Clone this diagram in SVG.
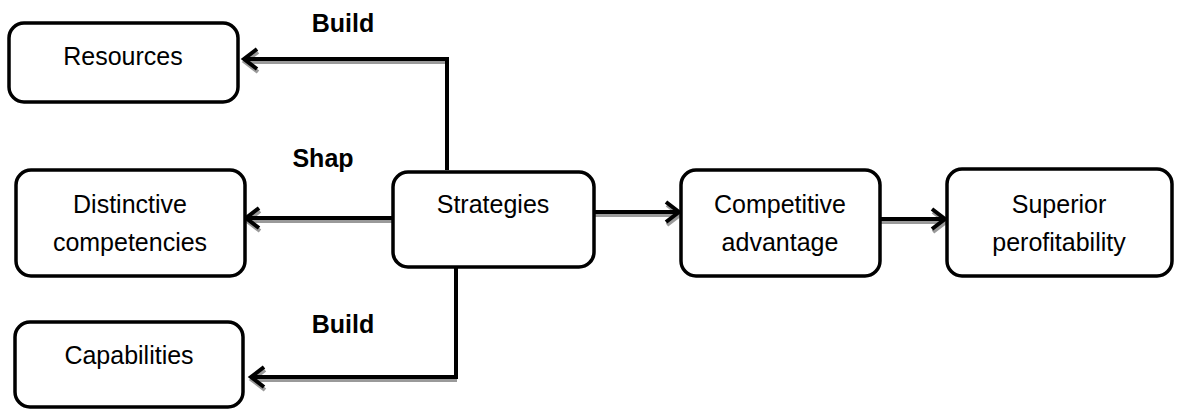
<svg xmlns="http://www.w3.org/2000/svg" width="1178" height="410" viewBox="0 0 1178 410">
  <style>
    .box { fill: #ffffff; stroke: #000000; stroke-width: 3.5; }
    .lbl { font-family: "Liberation Sans", Arial, sans-serif; font-size: 25px; fill: #000000; text-anchor: middle; }
    .edge-lbl { font-family: "Liberation Sans", Arial, sans-serif; font-size: 25px; font-weight: bold; fill: #000000; text-anchor: middle; }
    .ln { fill: none; stroke: #000000; stroke-width: 4; }
    .sh { fill: none; stroke: #9a9a9a; stroke-width: 4; }
  </style>
  <defs>
    <marker id="ah" viewBox="-18 -14 22 28" refX="0" refY="0" markerWidth="22" markerHeight="28" markerUnits="userSpaceOnUse" orient="auto" overflow="visible">
      <path d="M-13,-10 L0,0 L-13,10" fill="none" stroke="#000000" stroke-width="4"/>
    </marker>
    <marker id="ahs" viewBox="-18 -14 22 28" refX="0" refY="0" markerWidth="22" markerHeight="28" markerUnits="userSpaceOnUse" orient="auto" overflow="visible">
      <path d="M-13,-10 L0,0 L-13,10" fill="none" stroke="#9a9a9a" stroke-width="4"/>
    </marker>
  </defs>

  <g id="connectors">
    <g id="shadows" transform="translate(1,3)">
      <path class="sh" d="M447,59 L244,59" marker-end="url(#ahs)"/>
      <path class="sh" d="M393,218 L246,218" marker-end="url(#ahs)"/>
      <path class="sh" d="M456,377 L251,377" marker-end="url(#ahs)"/>
      <path class="sh" d="M594,212 L679,212" marker-end="url(#ahs)"/>
      <path class="sh" d="M880,219 L945,219" marker-end="url(#ahs)"/>
    </g>
    <path class="ln" d="M447,170 L447,59 L244,59" marker-end="url(#ah)"/>
    <path class="ln" d="M393,218 L246,218" marker-end="url(#ah)"/>
    <path class="ln" d="M456,267 L456,377 L251,377" marker-end="url(#ah)"/>
    <path class="ln" d="M594,212 L679,212" marker-end="url(#ah)"/>
    <path class="ln" d="M880,219 L945,219" marker-end="url(#ah)"/>
    <text class="edge-lbl" x="343" y="32">Build</text>
    <text class="edge-lbl" x="323" y="167">Shap</text>
    <text class="edge-lbl" x="343" y="333">Build</text>
  </g>

  <g id="resources">
    <rect class="box" x="9" y="23" width="229" height="79" rx="15"/>
    <text class="lbl" x="123" y="65">Resources</text>
  </g>
  <g id="distinctive">
    <rect class="box" x="16" y="170" width="229" height="106" rx="15"/>
    <text class="lbl" x="130" y="213">Distinctive</text>
    <text class="lbl" x="130" y="251">competencies</text>
  </g>
  <g id="capabilities">
    <rect class="box" x="15" y="322" width="228" height="85" rx="15"/>
    <text class="lbl" x="129" y="364">Capabilities</text>
  </g>
  <g id="strategies">
    <rect class="box" x="393" y="172" width="201" height="95" rx="15"/>
    <text class="lbl" x="493" y="213">Strategies</text>
  </g>
  <g id="competitive">
    <rect class="box" x="681" y="170" width="199" height="106" rx="15"/>
    <text class="lbl" x="780" y="213">Competitive</text>
    <text class="lbl" x="780" y="251">advantage</text>
  </g>
  <g id="superior">
    <rect class="box" x="947" y="169" width="225" height="107" rx="15"/>
    <text class="lbl" x="1059" y="213">Superior</text>
    <text class="lbl" x="1059" y="251">perofitability</text>
  </g>
</svg>
